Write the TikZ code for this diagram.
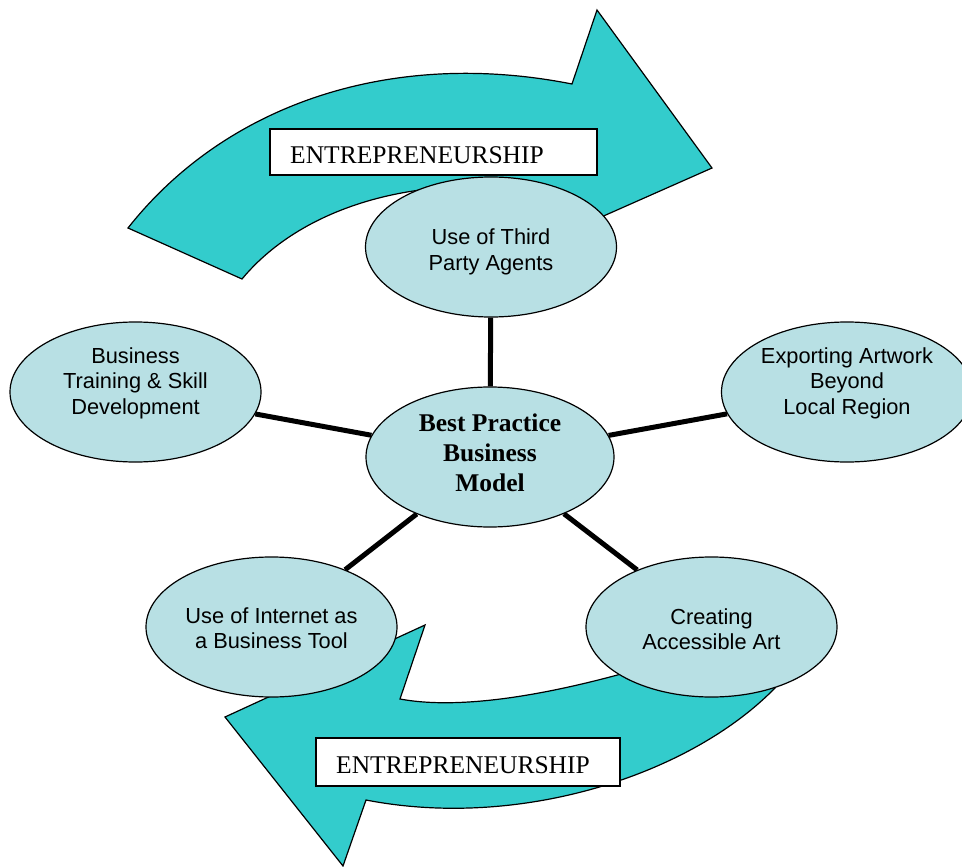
\documentclass[tikz,border=0pt]{standalone}
\usepackage{fontspec}
\setmainfont{Liberation Serif}
\setsansfont{Liberation Sans}
\usetikzlibrary{shapes.geometric}
\pgfdeclarelayer{back}
\pgfsetlayers{back,main}
\definecolor{arrowteal}{HTML}{33CCCC}
\definecolor{bubblefill}{HTML}{B8E0E4}

\begin{document}
\begin{tikzpicture}[x=1pt,y=-1pt,
  bubble/.style={ellipse, draw=black, line width=1.2pt, fill=bubblefill,
    minimum width=251pt, minimum height=140pt, inner sep=0pt},
  bubbletext/.style={font=\sffamily\fontsize{21.8}{25.5}\selectfont, align=center, inner sep=0pt},
  hubtext/.style={font=\rmfamily\bfseries\fontsize{25.5}{30}\selectfont, align=center, inner sep=0pt},
  spoke/.style={line width=5pt, draw=black},
  bigarrow/.style={fill=arrowteal, draw=black, line width=1.2pt, line join=miter},
  tagbox/.style={draw=black, line width=1.2pt, fill=white, inner sep=0pt},
  tagtext/.style={font=\rmfamily\fontsize{25.5}{30}\selectfont, anchor=base west, inner sep=0pt}
]
\useasboundingbox (0,0) rectangle (962,867);

% curved arrows behind everything
\begin{pgfonlayer}{back}
  % upper arrow, pointing right
  \path[bigarrow] (128,228) .. controls (225,105) and (390,48) .. (572,84)
    -- (597,10) -- (712,168) -- (590,222) -- (575,205)
    .. controls (480,168) and (320,185) .. (242,279) -- cycle;
  % lower arrow, pointing left
  \path[bigarrow] (775,688) .. controls (690,775) and (520,830) .. (366,800)
    -- (343,866) -- (225,717) -- (425,625) -- (400,699)
    .. controls (470,712) and (580,690) .. (700,650) -- cycle;
\end{pgfonlayer}

% labels on the arrows
\node[tagbox, minimum width=327pt, minimum height=46pt] (topbox) at (433.5,152) {};
\node[tagtext] (toptag) at (290,163) {ENTREPRENEURSHIP};
\node[tagbox, minimum width=304pt, minimum height=48pt] (botbox) at (468,762) {};
\node[tagtext] (bottag) at (336,773) {ENTREPRENEURSHIP};

\begin{scope}
\clip (0,0) rectangle (962,867);
% hub and surrounding themes
\node[bubble, minimum width=248pt] (hub) at (490,457) {};
\node[hubtext] (hubT) at (490,453) {Best Practice\\Business\\Model};

\node[bubble] (agents) at (491,247) {};
\node[bubbletext] (agentsT) at (491,252) {Use of Third\\Party Agents};

\node[bubble] (training) at (135.5,392) {};
\node[bubbletext] (trainingT) at (135.5,383) {Business\\Training \& Skill\\Development};

\node[bubble] (export) at (847,392) {};
\node[bubbletext] (exportT) at (847,383) {Exporting Artwork\\Beyond\\Local Region};

\node[bubble] (internet) at (271.5,627) {};
\node[bubbletext] (internetT) at (271.5,628) {Use of Internet as\\a Business Tool};

\node[bubble] (access) at (711.5,627) {};
\node[bubbletext] (accessT) at (711.5,629) {Creating\\Accessible Art};
\end{scope}

% spokes from the hub
\begin{pgfonlayer}{back}
  \draw[spoke] (hub) -- (agents);
  \draw[spoke] (hub) -- (training);
  \draw[spoke] (hub) -- (export);
  \draw[spoke] (hub) -- (internet);
  \draw[spoke] (hub) -- (access);
\end{pgfonlayer}
\end{tikzpicture}
\end{document}
